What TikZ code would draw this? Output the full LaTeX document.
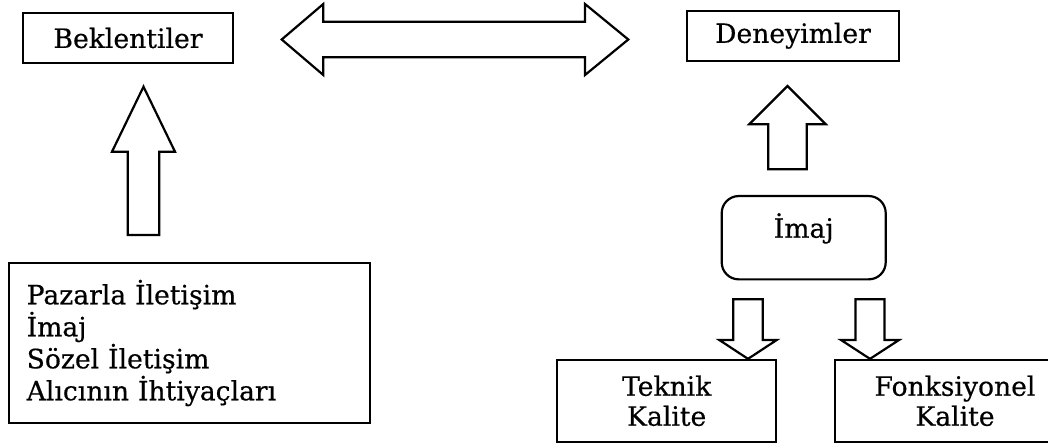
\documentclass[tikz,border=0pt]{standalone}
\usepackage{fontspec}
\setmainfont[FakeBold=0.5,AutoFakeBold=0.5]{DejaVu Serif}
\begin{document}
\begin{tikzpicture}[x=1pt,y=-1pt,
  box/.style={draw,line width=2.2pt,inner sep=0pt,font=\fontsize{26.6}{32}\selectfont\bfseries},
  blk/.style={draw,line width=2.2pt,line join=miter,fill=white}]
\clip (0,0) rectangle (1048,445);

% boxes
\node[box,minimum width=210,minimum height=50] (bek) at (128,38) {Beklentiler};
\node[box,minimum width=211.4,minimum height=50] (den) at (793,35.7) {Deneyimler};
\node[box,minimum width=360.7,minimum height=160.6,text width=326,align=left] (src) at (189.7,343)
  {Pazarla İletişim\\İmaj\\Sözel İletişim\\Alıcının İhtiyaçları};
\node[box,rounded corners=17,minimum width=164,minimum height=83.3,text height=18,text depth=18] (img) at (803.7,237.7) {İmaj};
\node[box,minimum width=218.7,minimum height=81.7,align=center,font=\fontsize{26.6}{30}\selectfont\bfseries] (tek) at (666.7,400.8) {Teknik\\Kalite};
\node[box,minimum width=240,minimum height=81.7,align=center,font=\fontsize{26.6}{30}\selectfont\bfseries] (fon) at (955,400.8) {Fonksiyonel\\Kalite};

% block arrow between expectations and experiences
\coordinate (dl) at (281.7,39.5);
\coordinate (dr) at (628.3,39.5);
\draw[blk] (dl) -- (323.3,4) -- (323.3,21.7) -- (585,21.7) -- (585,4) -- (dr)
  -- (585,75) -- (585,57.3) -- (323.3,57.3) -- (323.3,75) -- cycle;

% sources -> expectations
\coordinate (lu) at (143.5,86.7);
\draw[blk] (lu) -- (175,151.7) -- (159.3,151.7) -- (159.3,235) -- (127.7,235)
  -- (127.7,151.7) -- (112,151.7) -- cycle;

% image -> experiences
\coordinate (ru) at (787.5,86);
\draw[blk] (ru) -- (825.8,124.3) -- (806.7,124.3) -- (806.7,169.3) -- (768.3,169.3)
  -- (768.3,124.3) -- (749.2,124.3) -- cycle;

% quality dimensions -> image
\coordinate (d1) at (tek.north -| 748,0);
\draw[blk] (d1) -- (776.7,340) -- (762.7,340) -- (762.7,299.3) -- (733.3,299.3)
  -- (733.3,340) -- (719.3,340) -- cycle;
\coordinate (d2) at (fon.north -| 870,0);
\draw[blk] (d2) -- (899,340) -- (884.5,340) -- (884.5,299.3) -- (855.5,299.3)
  -- (855.5,340) -- (841,340) -- cycle;
\end{tikzpicture}
\end{document}
